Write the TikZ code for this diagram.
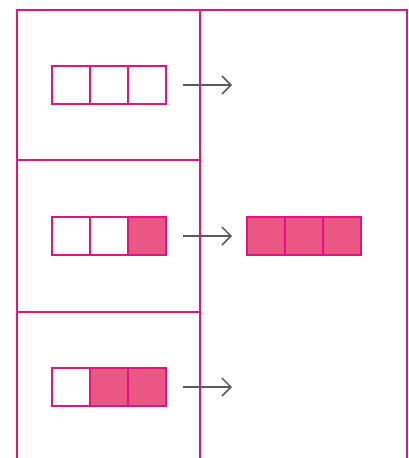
\documentclass[tikz,border=0pt]{standalone}
\usepackage{tikz}
\usetikzlibrary{arrows.meta,positioning}

\definecolor{magline}{HTML}{E5147A}
\definecolor{magfill}{HTML}{EA5784}
\definecolor{arrgray}{HTML}{5A5A5A}

\begin{document}
\begin{tikzpicture}[
    x=1pt, y=-1pt,
    cell/.style={draw=magline, line width=1.2pt, minimum size=38pt, inner sep=0pt, outer sep=0pt},
    full/.style={cell, fill=magfill},
    arr/.style={-{Straight Barb[length=9pt, width=18pt, line width=1.5pt]}, line width=1.5pt, draw=arrgray, shorten <=17pt, shorten >=15pt}
]
\useasboundingbox (0,0) rectangle (408,458);
% frame
\draw[magline, line width=1.2pt] (17,458) -- (17,10) -- (407,10) -- (407,458);
\draw[magline, line width=1.2pt] (200,10) -- (200,458);
\draw[magline, line width=1.2pt] (17,160) -- (200,160);
\draw[magline, line width=1.2pt] (17,312) -- (200,312);

% row 1
\node[cell] (r1a) at (71,85) {};
\node[cell, right=0pt of r1a] (r1b) {};
\node[cell, right=0pt of r1b] (r1c) {};
% row 2
\node[cell] (r2a) at (71,236) {};
\node[cell, right=0pt of r2a] (r2b) {};
\node[full, right=0pt of r2b] (r2c) {};
% row 3
\node[cell] (r3a) at (71,387) {};
\node[full, right=0pt of r3a] (r3b) {};
\node[full, right=0pt of r3b] (r3c) {};

% result
\node[full] (o1) at (266,236) {};
\node[full, right=0pt of o1] (o2) {};
\node[full, right=0pt of o2] (o3) {};

\coordinate (e1) at (247,85);
\coordinate (e3) at (247,387);

\draw[arr] (r1c.east) -- (e1);
\draw[arr] (r2c.east) -- (o1.west);
\draw[arr] (r3c.east) -- (e3);
\end{tikzpicture}
\end{document}
